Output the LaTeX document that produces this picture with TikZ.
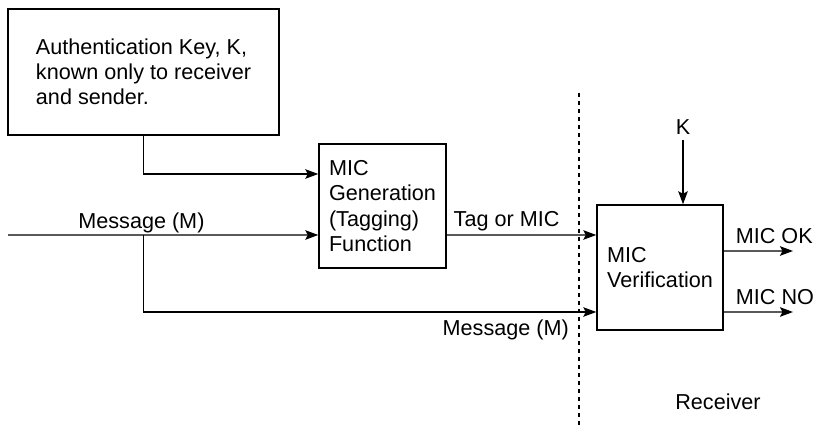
\documentclass[tikz,border=0pt]{standalone}
\usepackage{fontspec}
\setmainfont{Liberation Sans}
\usetikzlibrary{arrows.meta}
\tikzset{
  block box/.style={
    draw=black, line width=0.8pt, fill=white, align=left, inner sep=0pt,
    font=\fontsize{12.3}{14.3}\selectfont
  },
  flow arrow/.style={
    draw=black, line width=0.8pt, -{Stealth[length=2.6mm, width=1.9mm, inset=0.5mm]}
  },
  flow label/.style={
    inner sep=1pt, font=\fontsize{12.3}{14.3}\selectfont
  },
  border line/.style={
    draw=black, line width=0.8pt, dash pattern=on 0.8mm off 0.8mm
  }
}

\begin{document}
\begin{tikzpicture}
\useasboundingbox (0,0) rectangle (16.28,8.52);

% 发送端：密钥框和生成框
\node[block box, minimum width=5.42cm, minimum height=2.52cm] (key) at (2.87,7.08)
  {Authentication Key, K,\\known only to receiver\\and sender.};
\node[block box, minimum width=2.54cm, minimum height=2.48cm] (gen) at (7.65,4.40)
  {MIC\\Generation\\(Tagging)\\Function};

% 接收端：验证框
\node[block box, minimum width=2.52cm, minimum height=2.50cm] (ver) at (13.20,3.17)
  {MIC\\Verification};
\node[flow label, inner sep=3pt] (kver) at (13.66,5.98) {K};
\node[flow label] (recv) at (14.36,0.48) {Receiver};

\coordinate (msgin)  at (0.16,3.82);
\coordinate (split)  at (2.87,3.82);
\coordinate (okout)  at (15.86,3.50);
\coordinate (noout)  at (15.86,2.28);
\coordinate (divtop) at (11.58,6.66);
\coordinate (divbot) at (11.58,0);

% 分隔虚线
\draw[border line] (divtop) -- (divbot);

% 连线
\draw[flow arrow] (key.south) |- ([yshift=6.4mm]gen.west);
\draw[flow arrow] (msgin) -- node[flow label, above, pos=0.43] {Message (M)} ([yshift=-5.8mm]gen.west);
\draw[flow arrow] ([yshift=-5.8mm]gen.east) -- node[flow label, above, inner sep=2pt, pos=0.4] {Tag or MIC} ([yshift=6.5mm]ver.west);
\draw[flow arrow] (split) |- node[flow label, below, inner sep=4pt, pos=0.9] {Message (M)} ([yshift=-8.9mm]ver.west);
\draw[flow arrow] (kver) -- (kver |- ver.north);
\draw[flow arrow] ([yshift=3.3mm]ver.east) -- node[flow label, above, inner sep=4pt, pos=0.73] {MIC OK} (okout);
\draw[flow arrow] ([yshift=-8.9mm]ver.east) -- node[flow label, above, inner sep=3.5pt, pos=0.74] {MIC NO} (noout);

\end{tikzpicture}
\end{document}
